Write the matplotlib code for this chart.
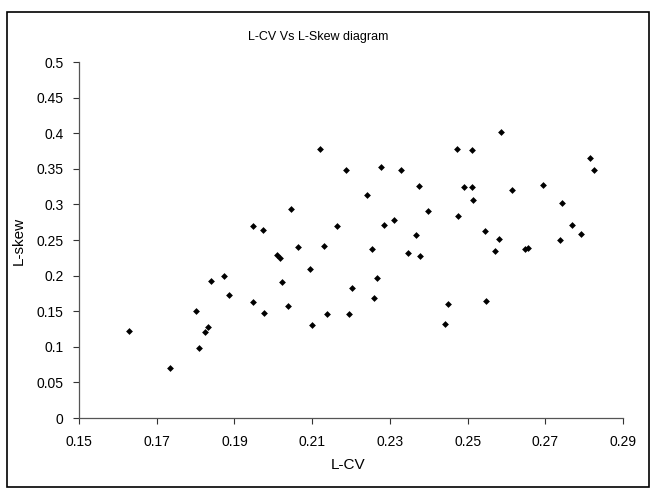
import matplotlib
matplotlib.use("Agg")
import matplotlib.pyplot as plt
from matplotlib.patches import Rectangle

plt.rcParams['font.family'] = ['Liberation Sans', 'DejaVu Sans']

l_cv = [0.1629, 0.1734, 0.1801, 0.1808, 0.1823, 0.1832, 0.1839, 0.1872, 0.1887, 0.1947,
        0.1949, 0.1973, 0.1976, 0.2009, 0.2016, 0.2023, 0.2037, 0.2045, 0.2064, 0.2095,
        0.2099, 0.2120, 0.2130, 0.2139, 0.2164, 0.2187, 0.2194, 0.2202, 0.2240, 0.2254,
        0.2258, 0.2266, 0.2277, 0.2285, 0.2311, 0.2328, 0.2346, 0.2367, 0.2376, 0.2378,
        0.2398, 0.2443, 0.2449, 0.2472, 0.2475, 0.2490, 0.2511, 0.2512, 0.2513, 0.2545,
        0.2547, 0.2570, 0.2581, 0.2586, 0.2615, 0.2649, 0.2655, 0.2694, 0.2738, 0.2744,
        0.2769, 0.2793, 0.2815, 0.2826]
l_skew = [0.122, 0.070, 0.150, 0.098, 0.121, 0.128, 0.193, 0.200, 0.173, 0.163,
          0.270, 0.264, 0.147, 0.229, 0.225, 0.191, 0.158, 0.294, 0.240, 0.209,
          0.131, 0.378, 0.242, 0.146, 0.270, 0.349, 0.146, 0.183, 0.313, 0.238,
          0.169, 0.196, 0.353, 0.271, 0.278, 0.348, 0.232, 0.257, 0.326, 0.227,
          0.291, 0.132, 0.160, 0.378, 0.284, 0.325, 0.325, 0.377, 0.306, 0.262,
          0.165, 0.234, 0.251, 0.401, 0.320, 0.238, 0.239, 0.327, 0.250, 0.302,
          0.271, 0.258, 0.365, 0.348]

x_ticks = [0.15, 0.17, 0.19, 0.21, 0.23, 0.25, 0.27, 0.29]
y_ticks = [0, 0.05, 0.1, 0.15, 0.2, 0.25, 0.3, 0.35, 0.4, 0.45, 0.5]
x_labels = ["0.15", "0.17", "0.19", "0.21", "0.23", "0.25", "0.27", "0.29"]
y_labels = ["0", "0.05", "0.1", "0.15", "0.2", "0.25", "0.3", "0.35", "0.4", "0.45", "0.5"]

W, H = 653, 493
fig = plt.figure(figsize=(W / 100, H / 100), dpi=100)
ax = fig.add_axes([79 / W, 1 - 418 / H, (623 - 79) / W, (418 - 62) / H])

ax.scatter(l_cv, l_skew, marker='D', s=12, color='black', linewidths=0)

ax.set_xlim(0.15, 0.29)
ax.set_ylim(0, 0.5)
ax.set_xticks(x_ticks)
ax.set_xticklabels(x_labels)
ax.set_yticks(y_ticks)
ax.set_yticklabels(y_labels)
ax.tick_params(direction='out', length=4, width=0.8, colors='#333333', labelsize=10,
               labelcolor='black')
ax.tick_params(axis='x', pad=8.5)
ax.tick_params(axis='y', pad=7)
for s in ['top', 'right']:
    ax.spines[s].set_visible(False)
for s in ['left', 'bottom']:
    ax.spines[s].set_color('#555555')
    ax.spines[s].set_linewidth(0.9)

fig.text(348 / W, 1 - 465 / H, "L-CV", ha='center', va='center', fontsize=11)
fig.text(19 / W, 1 - 241 / H, "L-skew", ha='center', va='center', rotation=90, fontsize=11)
fig.text(318 / W, 1 - 37 / H, "L-CV Vs L-Skew diagram", ha='center', va='center', fontsize=9)

fig.patches.append(Rectangle((7 / W, 1 - 487 / H), (649 - 7) / W, (487 - 12) / H,
                             transform=fig.transFigure, fill=False,
                             edgecolor='black', linewidth=1.2))

fig.savefig("out.png", dpi=100)
